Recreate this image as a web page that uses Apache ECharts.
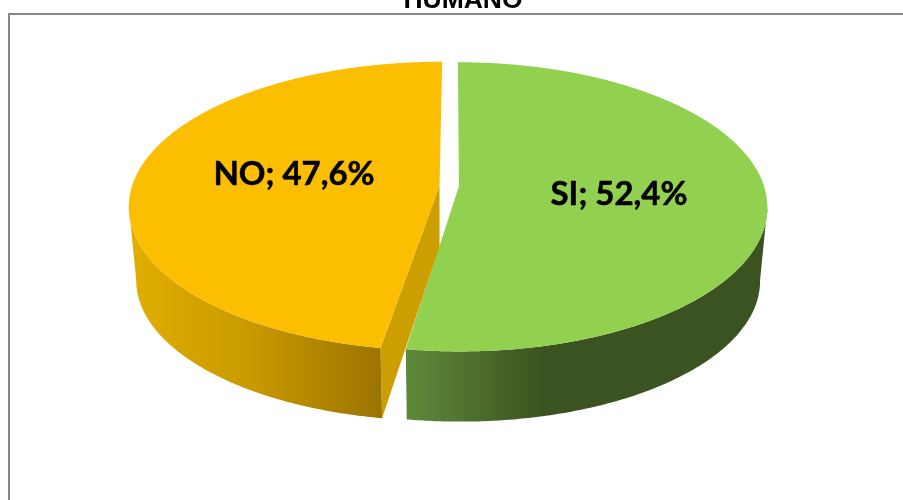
<!DOCTYPE html>
<html>
<head>
<meta charset="utf-8">
<script src="https://cdn.jsdelivr.net/npm/echarts@6/dist/echarts.min.js"></script>
<style>html,body{margin:0;padding:0;background:#fff}#c{width:903px;height:500px}</style>
</head>
<body>
<div id="c"></div>
<script>
const titleText = 'HUMANO';
const categories = ['SI', 'NO'];
const shares = [52.4, 47.6];

const topColors = ['#92D050', '#FCBE00'];
const cutColors = ['#4F6F2E', '#CC9F00'];
const wallStops = [
  [[0, '#5F8A3A'], [0.38, '#3B5320'], [1, '#3B5320']],
  [[0, '#E2AE00'], [0.5, '#C89800'], [1, '#9A7300']]
];
const labelAt = [[619, 194], [294, 174]];
const radiusScale = [1, 1.013];
const warpBy = [0.004, 0.0145];
const apexNudge = [0, -1.5];

const view = {cx: 450, cy: 186, a: 305, b: 141.6, k: 0.1418, explode: 9, depth: 74, apexDepth: 61, shrink: 0.977};

function project(x, y, low) {
  const w = 1 + view.k * y / view.a;
  const X = x / w;
  const Y = -view.b * (y / view.a) / w;
  return low
    ? [view.cx + X * view.shrink, view.cy + Y * view.shrink + view.depth]
    : [view.cx + X, view.cy + Y];
}
function rim(t, off, low, r) {
  return project(off[0] + r * Math.sin(t), off[1] + view.a * Math.cos(t), low);
}
const total = shares.reduce((s, v) => s + v, 0);
const tangent = Math.acos(-view.k);

function renderItem(params, api) {
  const i = params.dataIndex;
  const r = view.a * radiusScale[i];
  const before = shares.slice(0, i).reduce((s, v) => s + v, 0);
  const start0 = before / total * 2 * Math.PI;
  const end0 = (before + api.value(0)) / total * 2 * Math.PI;
  const mid = (start0 + end0) / 2;
  const warped = t => t + warpBy[i] * Math.sin(t / 2);
  const start = warped(start0), end = warped(end0);
  const off = [view.explode * Math.sin(mid), view.explode * Math.cos(mid)];
  const step = Math.PI / 360;

  const apex = project(off[0] + apexNudge[i], off[1], false);
  const topPts = [apex];
  for (let t = start; t < end; t += step) topPts.push(rim(t, off, false, r));
  topPts.push(rim(end, off, false, r));

  const from = Math.max(start, tangent), to = Math.min(end, 2 * Math.PI - tangent);
  const upper = [], lower = [];
  for (let t = from; t < to; t += step) { upper.push(rim(t, off, false, r)); lower.push(rim(t, off, true, r)); }
  upper.push(rim(to, off, false, r)); lower.push(rim(to, off, true, r));
  const wall = upper.concat(lower.reverse());

  const children = [];
  if (i === 1) {
    const a1 = [apex[0], apex[1] + view.apexDepth];
    const e0 = rim(start, off, false, r), e1 = rim(start, off, true, r);
    children.push({type: 'polygon', shape: {points: [apex, e0, e1, a1]}, style: {fill: cutColors[i]}});
  }
  children.push({
    type: 'polygon', shape: {points: wall},
    style: {fill: new echarts.graphic.LinearGradient(0, 0, 1, 0,
      wallStops[i].map(s => ({offset: s[0], color: s[1]})))}
  });
  children.push({type: 'polygon', shape: {points: topPts}, style: {fill: topColors[i]}});
  children.push({
    type: 'text',
    style: {
      text: categories[i] + '; ' + api.value(0).toFixed(1).replace('.', ',') + '%',
      x: labelAt[i][0], y: labelAt[i][1], align: 'center', verticalAlign: 'middle',
      font: 'bold 33px Lato, "Open Sans", sans-serif', fill: '#000', stroke: '#000', lineWidth: 0.5
    }
  });
  return {type: 'group', children};
}

const chart = echarts.init(document.getElementById('c'), null, {renderer: 'canvas'});
chart.setOption({
  animation: false,
  backgroundColor: '#fff',
  title: {
    text: titleText, left: 458, top: -18, textAlign: 'center',
    textStyle: {fontFamily: '"Liberation Sans", Arial, sans-serif', fontWeight: 'bold', fontSize: 26.5, color: '#000'}
  },
  graphic: [{
    type: 'rect', shape: {x: 9, y: 14, width: 1000, height: 1000},
    style: {fill: 'none', stroke: '#868686', lineWidth: 2}, z: -1
  }],
  series: [{
    type: 'custom', coordinateSystem: 'none', renderItem,
    data: shares.map((v, i) => ({name: categories[i], value: [v, i]}))
  }]
});
</script>
</body>
</html>
